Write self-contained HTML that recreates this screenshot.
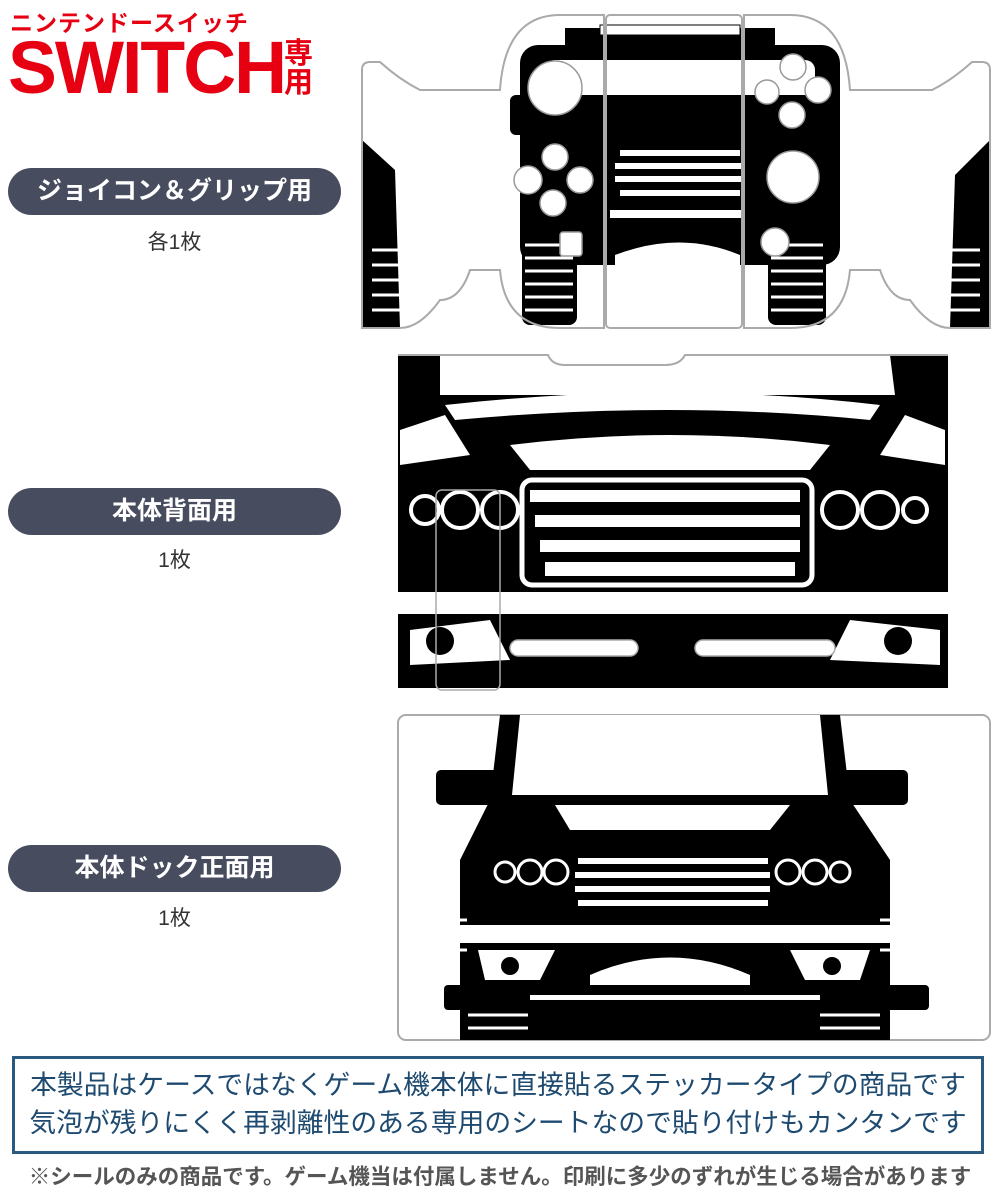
<!DOCTYPE html>
<html><head><meta charset="utf-8"><style>
body{margin:0;width:1000px;height:1200px;background:#fff;position:relative;overflow:hidden;font-family:"Liberation Sans","Noto Sans CJK JP",sans-serif}
.a{position:absolute}
.pill{position:absolute;left:8px;width:333px;height:47px;border-radius:24px;background:#474d5f;color:#fff;font-weight:bold;font-size:25px;text-align:center;line-height:47px}
.cnt{position:absolute;left:8px;width:333px;text-align:center;font-size:21px;color:#333}
</style></head><body>
<div class="a" style="left:10px;top:4px;color:#e60012;font-size:23px;font-weight:bold;letter-spacing:1px">ニンテンドースイッチ</div>
<div class="a" style="left:8px;top:33px;color:#e60012;font-size:74px;font-weight:bold;line-height:70px;letter-spacing:-2px;transform:scaleX(0.99);transform-origin:0 0">SWITCH</div>
<div class="a" style="left:284px;top:40px;color:#e60012;font-size:29px;font-weight:bold;line-height:29px;width:32px">専<br>用</div>

<div class="pill" style="top:168px">ジョイコン＆グリップ用</div>
<div class="cnt" style="top:226px">各1枚</div>
<div class="pill" style="top:488px">本体背面用</div>
<div class="cnt" style="top:544px">1枚</div>
<div class="pill" style="top:845px">本体ドック正面用</div>
<div class="cnt" style="top:902px">1枚</div>

<svg class="a" style="left:0;top:0" width="1000" height="1050">
<!-- Image 1 -->
<g>
<rect x="565" y="28" width="210" height="35" fill="#000"/>
<rect x="600" y="25" width="140" height="10" fill="#fff" stroke="#000"/>
<rect x="520" y="45" width="320" height="220" rx="18" fill="#000"/>
<rect x="545" y="60" width="270" height="60" rx="10" fill="#fff"/>
<rect x="510" y="95" width="330" height="40" rx="6" fill="#000"/>
<g fill="#fff"><rect x="620" y="150" width="120" height="6"/><rect x="615" y="163" width="130" height="6"/><rect x="615" y="176" width="130" height="6"/><rect x="620" y="190" width="120" height="6"/><rect x="610" y="210" width="135" height="8"/><path d="M615 255 Q680 230 740 255 L740 270 L615 270Z"/></g>
<g fill="#000"><rect x="522" y="230" width="55" height="95" rx="8"/><rect x="768" y="230" width="58" height="95" rx="8"/></g>
<g stroke="#fff" stroke-width="3"><path d="M525 245h48M525 258h48M525 271h48M525 284h48M525 297h48M525 310h48M771 245h52M771 258h52M771 271h52M771 284h52M771 297h52M771 310h52"/></g>
<path d="M362 140 L395 170 L400 328 L362 328Z" fill="#000"/>
<path d="M990 140 L955 175 L950 328 L990 328Z" fill="#000"/>
<g stroke="#fff" stroke-width="3"><path d="M372 250h28M372 265h28M372 280h28M372 295h28M372 310h28M950 250h30M950 265h30M950 280h30M950 295h30M950 310h30"/></g>
<g fill="#fff" stroke="#999" stroke-width="1.5"><circle cx="555" cy="88" r="27"/><circle cx="793" cy="67" r="13"/><circle cx="767" cy="92" r="12"/><circle cx="818" cy="90" r="13"/><circle cx="792" cy="115" r="13"/><circle cx="555" cy="157" r="13"/><circle cx="528" cy="180" r="14"/><circle cx="580" cy="180" r="13"/><circle cx="553" cy="203" r="13"/><circle cx="793" cy="177" r="26"/><circle cx="775" cy="242" r="14"/><rect x="560" y="232" width="22" height="24" rx="3"/></g>
<g fill="none" stroke="#aaa" stroke-width="2">
<path d="M362 70 Q362 62 370 62 L380 62 Q400 80 420 90 L500 90 Q505 15 560 15 L604 15 L604 328 L560 328 Q505 328 500 270 L470 270 Q460 300 440 300 Q420 328 400 328 L362 328Z"/>
<rect x="606" y="15" width="136" height="313" rx="4"/>
<path d="M990 70 Q990 62 982 62 L972 62 Q952 80 932 90 L850 90 Q845 15 790 15 L744 15 L744 328 L790 328 Q845 328 850 270 L880 270 Q890 300 910 300 Q930 328 950 328 L990 328Z"/>
</g>
</g>
<!-- Image 2 -->
<g>
<rect x="398" y="355" width="550" height="333" fill="#000"/>
<path d="M440 355 L890 355 L895 395 L440 395Z" fill="#fff"/>
<path d="M445 405 Q670 380 880 405 L870 420 Q670 400 455 420Z" fill="#fff"/>
<path d="M510 445 Q670 425 830 445 L810 470 L530 470Z" fill="#fff"/>
<path d="M400 430 L445 415 L470 455 L400 465Z M945 430 L905 415 L880 455 L945 465Z" fill="#fff"/>
<g fill="#fff"><rect x="530" y="490" width="270" height="12"/><rect x="535" y="515" width="265" height="12"/><rect x="540" y="540" width="260" height="12"/><rect x="545" y="562" width="250" height="14"/></g>
<rect x="522" y="480" width="290" height="105" rx="10" fill="none" stroke="#fff" stroke-width="5"/>
<rect x="398" y="592" width="550" height="22" fill="#fff"/>
<path d="M410 630 L490 620 L510 660 L410 665Z M940 630 L850 620 L830 660 L940 665Z" fill="#fff"/>
<g fill="none" stroke="#fff" stroke-width="4"><circle cx="425" cy="510" r="14"/><circle cx="460" cy="510" r="18"/><circle cx="500" cy="510" r="18"/><circle cx="840" cy="510" r="18"/><circle cx="880" cy="510" r="18"/><circle cx="915" cy="510" r="12"/></g>
<circle cx="440" cy="641" r="14" fill="#000"/><circle cx="898" cy="641" r="14" fill="#000"/>
<g fill="#fff" stroke="#aaa" stroke-width="1.5">
<rect x="510" y="640" width="128" height="16" rx="8"/><rect x="695" y="640" width="140" height="16" rx="8"/>
<rect x="436" y="490" width="64" height="200" rx="6" fill="none"/>
</g>
<path d="M398 355 L548 355 Q552 365 565 365 L665 365 Q680 365 685 355 L948 355" fill="none" stroke="#aaa" stroke-width="2"/>
</g>
<!-- Image 3 -->
<g>
<rect x="398" y="715" width="592" height="325" rx="8" fill="#fff" stroke="#aaa" stroke-width="2"/>
<path d="M500 715 L840 715 L850 800 L890 860 L890 1040 L460 1040 L460 860 L490 800Z" fill="#000"/>
<path d="M520 715 L820 715 L828 795 L512 795Z" fill="#fff"/>
<rect x="436" y="770" width="64" height="35" rx="5" fill="#000"/><rect x="842" y="770" width="66" height="35" rx="5" fill="#000"/>
<path d="M555 805 L790 805 L770 830 L570 830Z" fill="#fff"/>
<g fill="#fff"><rect x="578" y="858" width="190" height="6"/><rect x="575" y="872" width="195" height="6"/><rect x="575" y="886" width="195" height="6"/><rect x="578" y="900" width="190" height="6"/></g>
<g fill="none" stroke="#fff" stroke-width="3"><circle cx="505" cy="872" r="10"/><circle cx="530" cy="872" r="12"/><circle cx="556" cy="872" r="12"/><circle cx="788" cy="872" r="12"/><circle cx="815" cy="872" r="12"/><circle cx="840" cy="872" r="10"/></g>
<rect x="460" y="925" width="430" height="18" fill="#fff"/>
<path d="M478 950 L555 950 L540 980 L485 980Z M870 950 L790 950 L805 980 L860 980Z M590 975 Q670 940 750 975 L750 985 L590 985Z" fill="#fff"/>
<circle cx="510" cy="966" r="9" fill="#000"/><circle cx="832" cy="966" r="9" fill="#000"/>
<rect x="444" y="985" width="485" height="25" rx="4" fill="#000"/>
<rect x="530" y="995" width="290" height="5" fill="#fff"/>
<g stroke="#fff" stroke-width="3"><path d="M455 920h12M455 935h12M455 950h12M880 920h12M880 935h12M880 950h12M468 1015h60M468 1028h60M820 1015h60M820 1028h60"/></g>
</g>
</svg>

<div class="a" style="left:12px;top:1056px;width:966px;height:85px;border:3px solid #2a5a80;color:#1e4a70;font-size:26.8px;line-height:38px;text-align:center;padding-top:7px;box-sizing:content-box;white-space:nowrap">本製品はケースではなくゲーム機本体に直接貼るステッカータイプの商品です<br>気泡が残りにくく再剥離性のある専用のシートなので貼り付けもカンタンです</div>
<div class="a" style="left:0;top:1160px;width:1000px;font-size:21.5px;color:#555;font-weight:bold;text-align:center;white-space:nowrap">※シールのみの商品です。ゲーム機当は付属しません。印刷に多少のずれが生じる場合があります</div>
</body></html>
